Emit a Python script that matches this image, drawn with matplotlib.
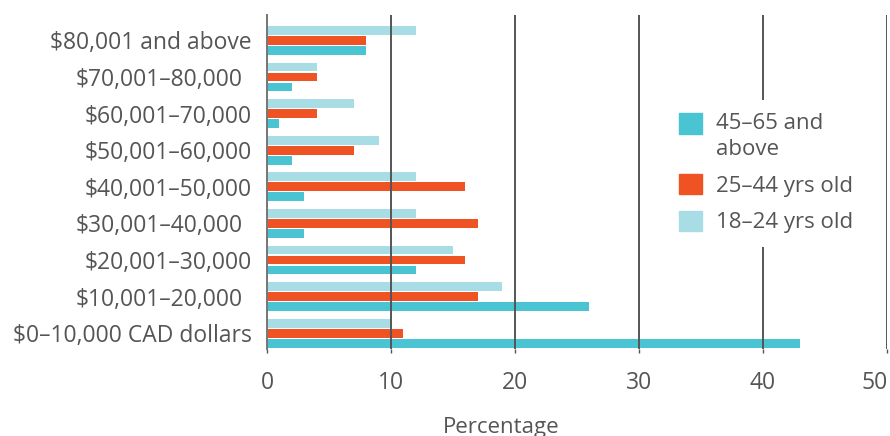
import matplotlib.pyplot as plt
import numpy as np
from matplotlib.legend_handler import HandlerPatch
from matplotlib.patches import Patch, Rectangle
from matplotlib.transforms import ScaledTranslation

plt.rcParams['font.family'] = ['Open Sans', 'DejaVu Sans']

# income brackets, top to bottom
brackets = [
    '$80,001 and above', '$70,001–80,000', '$60,001–70,000',
    '$50,001–60,000', '$40,001–50,000', '$30,001–40,000',
    '$20,001–30,000', '$10,001–20,000', '$0–10,000 CAD dollars',
]
# percentages per age group
age_18_24 = [12, 4, 7, 9, 12, 12, 15, 19, 10]
age_25_44 = [8, 4, 4, 7, 16, 17, 16, 17, 11]
age_45_65 = [8, 2, 1, 2, 3, 3, 12, 26, 43]

series_labels = ['18–24 yrs old', '25–44 yrs old', '45–65 and\nabove']
colors = ['#a9dde6', '#f05323', '#4ac3d2']
text_col = '#555555'

fig = plt.figure(figsize=(8.9, 4.36), dpi=100)
ax = fig.add_axes([0.3, 0.1995, 0.6963, 0.766])

y = np.arange(len(brackets))
h = 0.24
step = 0.273
for i, (vals, col) in enumerate(zip([age_18_24, age_25_44, age_45_65], colors)):
    ax.barh(y + (i - 1) * step, vals, height=h, color=col, zorder=1)

ax.set_xlim(0, 50)
ax.set_ylim(8.43, -0.69)
ax.set_xticks([0, 10, 20, 30, 40, 50])
ax.set_yticks(y)
ax.set_yticklabels(brackets)

ax.grid(axis='x', color='#555555', linewidth=1.4, zorder=3)
ax.set_axisbelow(False)
for s in ['top', 'right', 'bottom']:
    ax.spines[s].set_visible(False)
ax.spines['left'].set_color('#777777')
ax.spines['left'].set_linewidth(1.4)
ax.spines['left'].set_zorder(4)

ax.tick_params(axis='y', length=0, pad=11, labelsize=16.5, labelcolor=text_col)
ax.tick_params(axis='x', length=3, width=1, color='#555555', pad=13,
               labelsize=16.5, labelcolor=text_col)
# last tick label sits flush with the right edge
ax.get_xticklabels()[-1].set_ha('right')
ax.get_xticklabels()[-1].set_transform(
    ax.get_xticklabels()[-1].get_transform()
    + ScaledTranslation(0.01, 0, fig.dpi_scale_trans))

# a few labels are set slightly further in
for lab in ax.get_yticklabels():
    if lab.get_text() in ('$70,001–80,000', '$30,001–40,000', '$10,001–20,000'):
        lab.set_transform(lab.get_transform()
                          + ScaledTranslation(-0.09, 0, fig.dpi_scale_trans))

ax.set_xlabel('Percentage', fontsize=16, color=text_col)
ax.xaxis.set_label_coords(0.378, -0.236)
ax.xaxis.label.set_va('center')


def raised_patch(legend, orig_handle, xdescent, ydescent, width, height, fontsize):
    # align the swatch with the first line of a two-line label
    return Rectangle((-xdescent, -ydescent + 0.61 * fontsize), width, height)


handles = [Patch(color=c) for c in colors[::-1]]
leg = ax.legend(handles, series_labels[::-1], loc='upper left',
                bbox_to_anchor=(0.643, 0.7455), borderaxespad=0,
                frameon=True, fontsize=16,
                handlelength=1.04, handleheight=1.04, handletextpad=0.63,
                labelspacing=0.63, borderpad=0.6, labelcolor=text_col,
                handler_map={handles[0]: HandlerPatch(patch_func=raised_patch)})
leg.texts[0].set_linespacing(1.27)
leg.get_frame().set_facecolor('white')
leg.get_frame().set_edgecolor('none')
leg.get_frame().set_alpha(1)

fig.savefig('out.png', dpi=100)
